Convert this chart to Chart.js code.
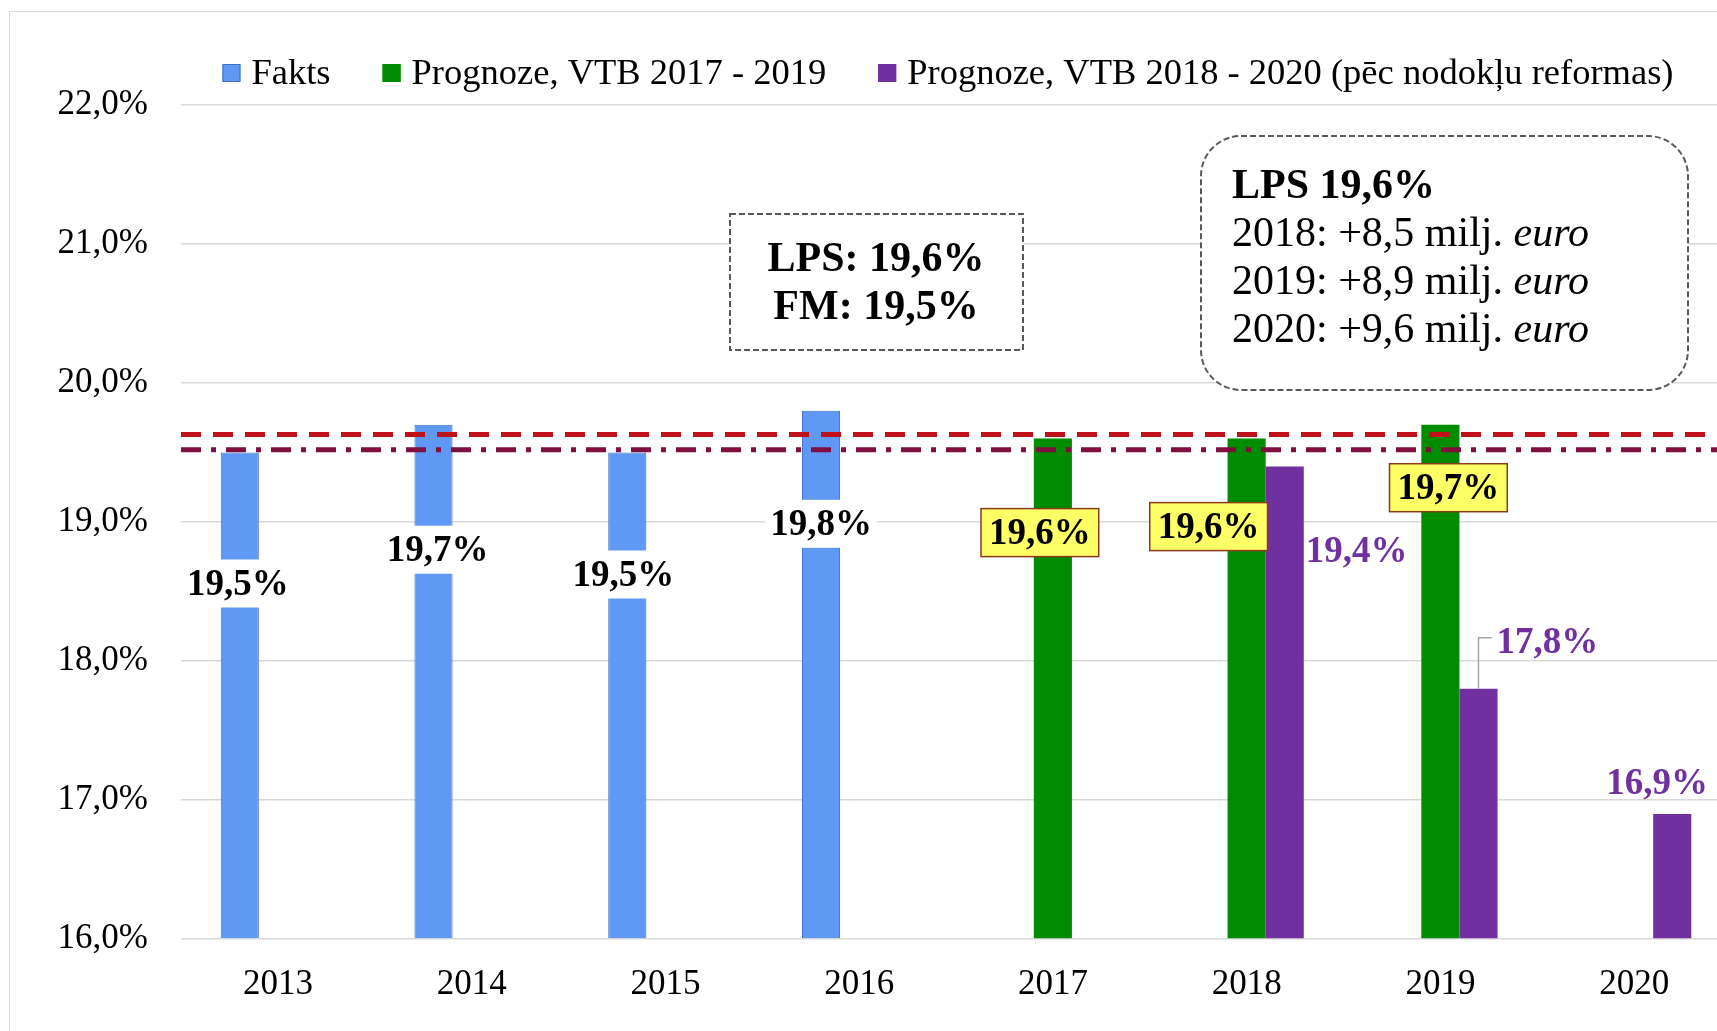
<!DOCTYPE html>
<html>
<head>
<meta charset="utf-8">
<script src="https://cdn.jsdelivr.net/npm/chart.js@4/dist/chart.umd.min.js"></script>
<style>
  html, body { margin: 0; padding: 0; background: #fff; overflow: hidden; width: 1717px; height: 1031px; }
  .frame { position: absolute; left: 9px; top: 11px; width: 1900px; height: 1200px; border: 1px solid #d9d9d9; }
  #chart { position: absolute; left: 0; top: 0; }
</style>
</head>
<body>
<div class="frame"></div>
<canvas id="chart" width="1760" height="1031"></canvas>
<script>
// categories and series
const years = ['2013', '2014', '2015', '2016', '2017', '2018', '2019', '2020'];
const fakts = [19.5, 19.7, 19.5, 19.8, null, null, null, null];
const vtb2017 = [null, null, null, null, 19.6, 19.6, 19.7, null];
const vtb2018 = [null, null, null, null, null, 19.4, 17.8, 16.9];
const seriesNames = ['Fakts', 'Prognoze, VTB 2017 - 2019', 'Prognoze, VTB 2018 - 2020 (pēc nodokļu reformas)'];

// y axis
const yMin = 16;
const yMax = 22;
const yStep = 1;

// horizontal reference levels (LPS dashed, FM dash-dot)
const lpsLevel = 19.63;
const fmLevel = 19.52;

// text boxes
const boxLeft = ['LPS: 19,6%', 'FM: 19,5%'];
const boxRightTitle = 'LPS 19,6%';
const boxRightLines = ['2018: +8,5 milj.', '2019: +8,9 milj.', '2020: +9,6 milj.'];
const boxRightUnit = 'euro';

const SERIF = '"Liberation Serif", "Times New Roman", serif';
const colors = ['#6098F5', '#008C00', '#7030A0'];
const borders = ['#3F6FC0', '#008C00', '#7030A0'];

// label offsets from the top of each bar (layout only)
const labelShift = [
  [[-2, 131], [4, 125], [-4, 122], [0, 113], null, null, null, null],
  [null, null, null, null, [-13, 94], [-38, 88], [8, 63], null],
  [null, null, null, null, null, [72, 84], [69, -47], [-15, -31]]
];

const fmt = v => v.toFixed(1).replace('.', ',') + '%';

const extras = {
  id: 'extras',
  afterDatasetsDraw(chart) {
    const ctx = chart.ctx;
    const area = chart.chartArea;
    const y = chart.scales.y;

    // reference lines
    ctx.save();
    ctx.lineWidth = 5;
    ctx.setLineDash([20, 12]);
    ctx.strokeStyle = '#C0101A';
    ctx.beginPath();
    ctx.moveTo(area.left, y.getPixelForValue(lpsLevel));
    ctx.lineTo(area.right, y.getPixelForValue(lpsLevel));
    ctx.stroke();
    ctx.setLineDash([20, 10, 5, 10]);
    ctx.strokeStyle = '#7F0F3F';
    ctx.beginPath();
    ctx.moveTo(area.left, y.getPixelForValue(fmLevel));
    ctx.lineTo(area.right, y.getPixelForValue(fmLevel));
    ctx.stroke();
    ctx.restore();

    // value labels
    ctx.save();
    ctx.font = 'bold 37px ' + SERIF;
    ctx.textAlign = 'center';
    ctx.textBaseline = 'middle';
    chart.data.datasets.forEach((ds, di) => {
      const meta = chart.getDatasetMeta(di);
      ds.data.forEach((v, i) => {
        if (v == null) return;
        const bar = meta.data[i];
        const [dx, dy] = labelShift[di][i];
        const cx = bar.x + dx, cy = bar.y + dy;
        const text = fmt(v);
        const w = ctx.measureText(text).width;
        if (di === 0) {
          ctx.fillStyle = '#fff';
          ctx.fillRect(cx - w / 2 - 5, cy - 24, w + 10, 48);
          ctx.fillStyle = '#000';
          ctx.fillText(text, cx, cy + 2);
        } else if (di === 1) {
          ctx.fillStyle = '#FFFF66';
          ctx.fillRect(cx - w / 2 - 8, cy - 24, w + 16, 48);
          ctx.strokeStyle = '#8B3A1A';
          ctx.lineWidth = 1.5;
          ctx.strokeRect(cx - w / 2 - 8, cy - 24, w + 16, 48);
          ctx.fillStyle = '#000';
          ctx.fillText(text, cx, cy + 2);
        } else {
          if (dy < -40) {
            // leader line
            ctx.strokeStyle = '#A6A6A6';
            ctx.lineWidth = 1.5;
            ctx.beginPath();
            ctx.moveTo(bar.x, bar.y);
            ctx.lineTo(bar.x, cy - 4);
            ctx.lineTo(cx - w / 2 - 5, cy - 4);
            ctx.stroke();
          }
          ctx.fillStyle = '#7030A0';
          ctx.fillText(text, cx, cy + 2);
        }
      });
    });
    ctx.restore();

    // legend
    ctx.save();
    ctx.font = '36.5px ' + SERIF;
    ctx.textBaseline = 'middle';
    ctx.textAlign = 'left';
    const box = 18, gap = 11, spacing = 52;
    const widths = seriesNames.map(n => box + gap + ctx.measureText(n).width);
    const total = widths.reduce((a, b) => a + b, 0) + spacing * (widths.length - 1);
    let lx = (area.left + area.right) / 2 - 8 - total / 2;
    const ly = 73;
    seriesNames.forEach((n, i) => {
      ctx.fillStyle = colors[i];
      ctx.fillRect(lx, ly - box / 2, box, box);
      ctx.strokeStyle = borders[i];
      ctx.lineWidth = 1;
      ctx.strokeRect(lx + 0.5, ly - box / 2 + 0.5, box - 1, box - 1);
      ctx.fillStyle = '#000';
      ctx.fillText(n, lx + box + gap, ly + 1);
      lx += widths[i] + spacing;
    });
    ctx.restore();

    // text boxes
    ctx.save();
    ctx.strokeStyle = '#595959';
    ctx.lineWidth = 2;
    ctx.setLineDash([6, 3]);
    ctx.fillStyle = '#fff';
    ctx.fillRect(730, 214, 293, 136);
    ctx.strokeRect(730, 214, 293, 136);
    ctx.beginPath();
    ctx.roundRect(1201, 136, 487, 254, 40);
    ctx.fillStyle = '#fff';
    ctx.fill();
    ctx.stroke();
    ctx.setLineDash([]);
    ctx.fillStyle = '#000';
    ctx.textBaseline = 'alphabetic';
    ctx.font = 'bold 42px ' + SERIF;
    ctx.textAlign = 'center';
    ctx.fillText(boxLeft[0], 876, 271);
    ctx.fillText(boxLeft[1], 876, 319);
    ctx.textAlign = 'left';
    ctx.fillText(boxRightTitle, 1232, 198);
    boxRightLines.forEach((t, i) => {
      const by = 246 + i * 48;
      ctx.font = '42px ' + SERIF;
      ctx.fillText(t, 1232, by);
      const tw = ctx.measureText(t + ' ').width;
      ctx.font = 'italic 42px ' + SERIF;
      ctx.fillText(boxRightUnit, 1232 + tw, by);
    });
    ctx.restore();
  }
};

new Chart(document.getElementById('chart').getContext('2d'), {
  type: 'bar',
  data: {
    labels: years,
    datasets: [
      { label: seriesNames[0], data: fakts, backgroundColor: colors[0], borderColor: borders[0], borderWidth: 1 },
      { label: seriesNames[1], data: vtb2017, backgroundColor: colors[1], borderColor: borders[1], borderWidth: 0 },
      { label: seriesNames[2], data: vtb2018, backgroundColor: colors[2], borderColor: borders[2], borderWidth: 0 }
    ]
  },
  options: {
    responsive: false,
    animation: false,
    devicePixelRatio: 1,
    base: yMin,
    categoryPercentage: 0.59,
    barPercentage: 1.0,
    layout: { padding: { top: 105, right: 29, bottom: 0, left: 0 } },
    plugins: {
      legend: { display: false },
      tooltip: { enabled: false }
    },
    scales: {
      x: {
        grid: { display: false, drawTicks: false },
        border: { display: false },
        ticks: { color: '#000', font: { family: SERIF, size: 35 }, padding: 25 }
      },
      y: {
        min: yMin,
        max: yMax,
        afterFit: s => { s.width = 181; },
        grid: { color: '#d9d9d9', lineWidth: 1.5, drawTicks: false },
        border: { display: false },
        ticks: {
          stepSize: yStep,
          color: '#000',
          padding: 33,
          font: { family: SERIF, size: 35 },
          callback: v => v.toFixed(1).replace('.', ',') + '%'
        }
      }
    }
  },
  plugins: [extras]
});
</script>
</body>
</html>
